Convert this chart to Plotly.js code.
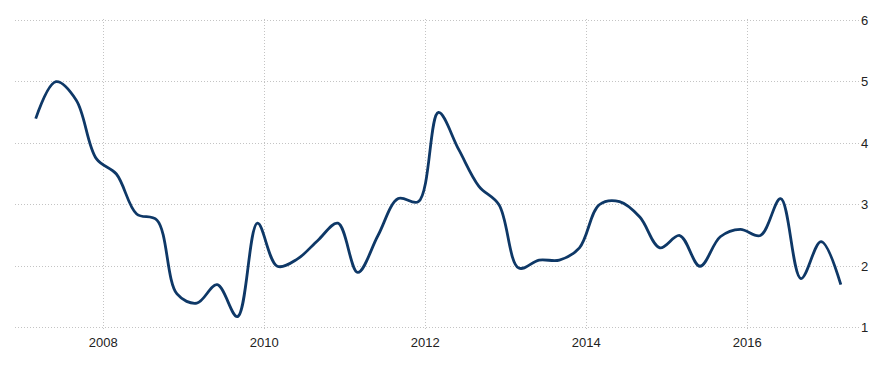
<!DOCTYPE html>
<html>
<head>
<meta charset="utf-8">
<script src="https://cdn.plot.ly/plotly-3.0.1.min.js"></script>
<style>html,body{margin:0;padding:0;background:#fff;}#chart{width:888px;height:367px;}</style>
</head>
<body>
<div id="chart"></div>
<script>
const dates = [
  "2007-03-01","2007-06-01","2007-09-01","2007-12-01",
  "2008-03-01","2008-06-01","2008-09-01","2008-12-01",
  "2009-03-01","2009-06-01","2009-09-01","2009-12-01",
  "2010-03-01","2010-06-01","2010-09-01","2010-12-01",
  "2011-03-01","2011-06-01","2011-09-01","2011-12-01",
  "2012-03-01","2012-06-01","2012-09-01","2012-12-01",
  "2013-03-01","2013-06-01","2013-09-01","2013-12-01",
  "2014-03-01","2014-06-01","2014-09-01","2014-12-01",
  "2015-03-01","2015-06-01","2015-09-01","2015-12-01",
  "2016-03-01","2016-06-01","2016-09-01","2016-12-01",
  "2017-03-01"
];
const values = [
  4.4, 5.0, 4.7, 3.75,
  3.5, 2.85, 2.75, 1.55,
  1.4, 1.7, 1.18, 2.7,
  2.0, 2.12, 2.42, 2.7,
  1.9, 2.5, 3.1, 3.05,
  4.5, 3.9, 3.3, 3.0,
  1.97, 2.1, 2.1, 2.3,
  3.0, 3.05, 2.8, 2.3,
  2.5, 2.0, 2.48, 2.6,
  2.5, 3.1, 1.8, 2.4,
  1.7
];
const xTickVals = ["2008-01-01","2010-01-01","2012-01-01","2014-01-01","2016-01-01"];
const xTickText = ["2008","2010","2012","2014","2016"];
const yTickVals = [1,2,3,4,5,6];

const trace = {
  x: dates, y: values, type: "scatter", mode: "lines",
  line: {color: "#0e3867", width: 2.8, shape: "spline", smoothing: 1},
  hoverinfo: "skip"
};
const layout = {
  width: 888, height: 367,
  margin: {l: 15, r: 28, t: 19, b: 38},
  paper_bgcolor: "#ffffff", plot_bgcolor: "#ffffff",
  showlegend: false,
  font: {family: "Liberation Sans, Arial, sans-serif", size: 13, color: "#222222"},
  xaxis: {
    type: "date",
    range: ["2006-11-27", "2017-05-27"],
    tickvals: xTickVals, ticktext: xTickText,
    showgrid: true, gridcolor: "#c4c4c4", griddash: "1px,2px", gridwidth: 1,
    zeroline: false, showline: false, ticks: "",
    ticklabelstandoff: 4,
    tickfont: {size: 13, color: "#222222"}
  },
  yaxis: {
    side: "right",
    range: [0.98, 6.02],
    tickvals: yTickVals,
    showgrid: true, gridcolor: "#c4c4c4", griddash: "1px,2px", gridwidth: 1,
    zeroline: false, showline: false, ticks: "",
    tickfont: {size: 13, color: "#222222"}
  }
};
Plotly.newPlot("chart", [trace], layout, {staticPlot: true, displayModeBar: false});
</script>
</body>
</html>
